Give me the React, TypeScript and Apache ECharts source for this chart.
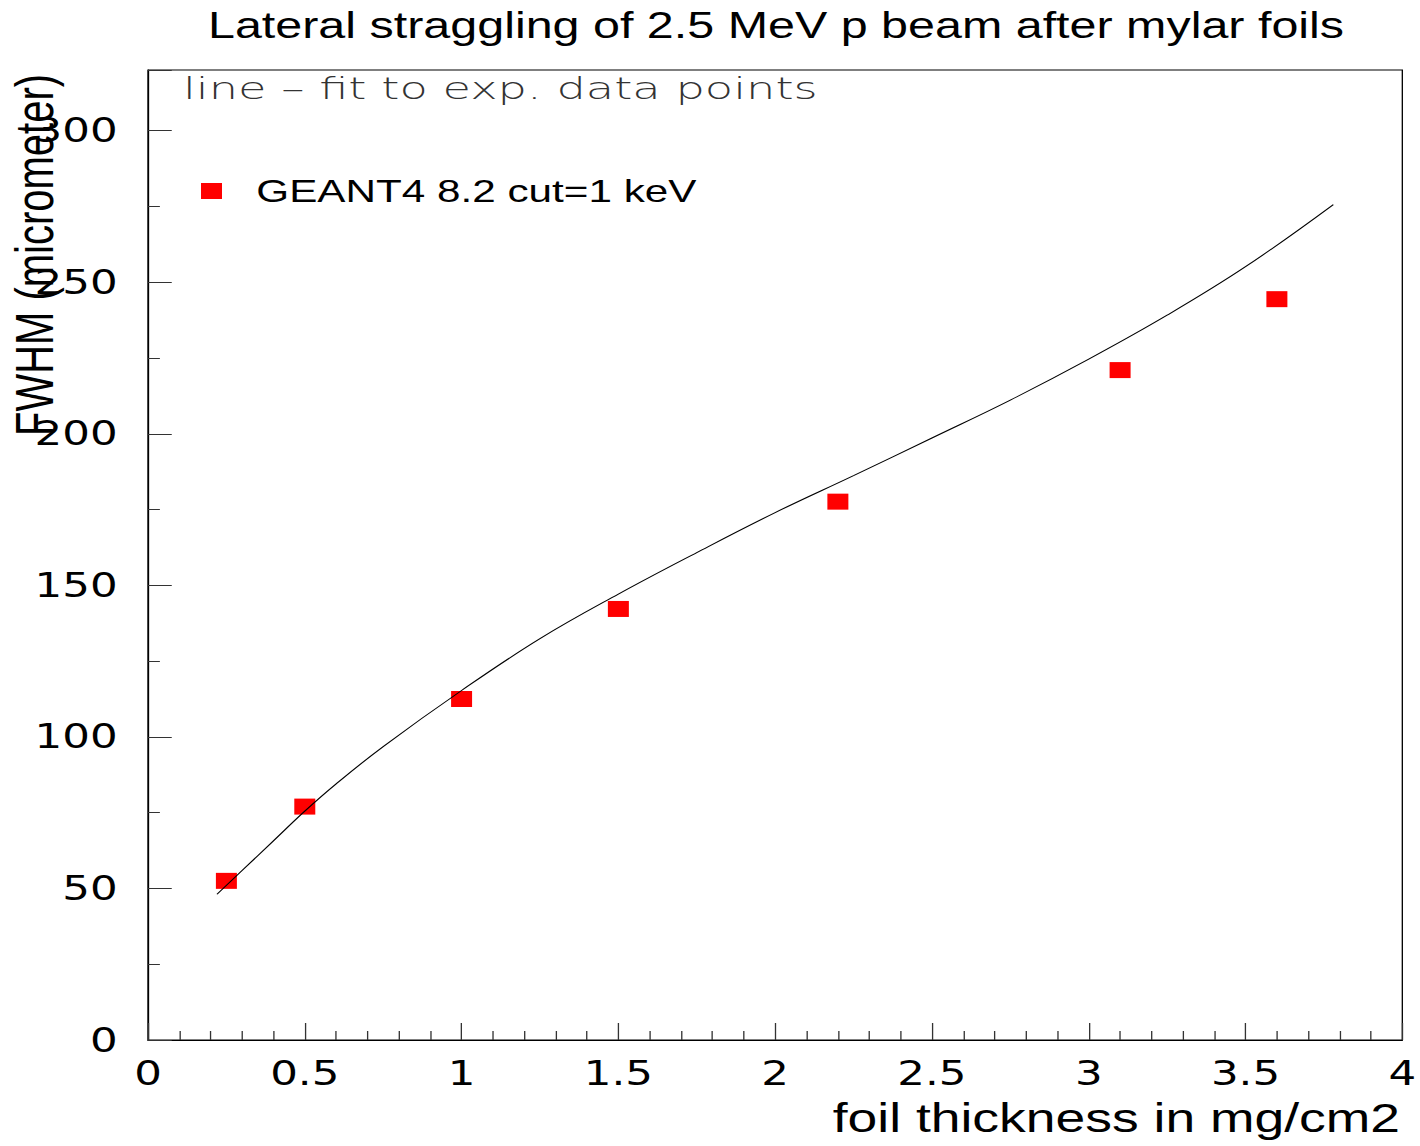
import React, { useEffect, useRef } from "react";
import * as echarts from "echarts";

// The figure is laid out in a narrower box and stretched horizontally,
// the way the original ROOT canvas was exported.
const STRETCH = 1.32;
const PAGE_W = 1420;
const PAGE_H = 1146;
const W = PAGE_W / STRETCH;

const TITLE = "Lateral straggling of 2.5 MeV p beam after mylar foils";
const NOTE = "line \u2013 fit to exp. data points";
const X_NAME = "foil thickness in mg/cm2";
const Y_NAME = "FWHM (micrometer)";
const SERIES_NAME = "GEANT4 8.2 cut=1 keV";

// Simulated points
const thickness = [0.25, 0.5, 1.0, 1.5, 2.2, 3.1, 3.6];
const fwhm = [52.5, 77, 112.5, 142.2, 177.6, 221, 244.4];

// Fit curve through the experimental data
const fitThickness = [0.22, 0.3, 0.4, 0.5, 0.6, 0.75, 1.0, 1.25, 1.5, 1.75, 2.0, 2.25, 2.5, 2.75, 3.0, 3.25, 3.5, 3.78];
const fitFwhm = [48.1, 55.9, 65.7, 75.5, 84.5, 96.8, 115.3, 132.4, 147.1, 160.8, 174.0, 186.2, 198.6, 211.1, 224.6, 239.1, 255.1, 275.6];

const X_MIN = 0;
const X_MAX = 4;
const X_STEP = 0.5;
const Y_MIN = 0;
const Y_MAX = 320;
const Y_STEP = 50;
const Y_MINOR_STEP = 25;
const Y_LAST_LABEL = 300;

const SANS = "Liberation Sans";

export default function App() {
  const ref = useRef<HTMLDivElement>(null);

  useEffect(() => {
    if (!ref.current) return;
    const chart = echarts.init(ref.current, null, { renderer: "svg" });

    const g4Data = thickness.map((x, i) => [x, fwhm[i]]);
    const fitData = fitThickness.map((x, i) => [x, fitFwhm[i]]);

    const axisColor = "#000";

    chart.setOption({
      animation: false,
      backgroundColor: "#fff",
      grid: {
        left: 148 / STRETCH,
        right: W - 1402 / STRETCH,
        top: 70,
        bottom: PAGE_H - 1040,
        show: true,
        borderColor: axisColor,
        borderWidth: 1,
        containLabel: false,
      },
      legend: {
        data: [SERIES_NAME],
        left: 201 / STRETCH - 5,
        top: 170,
        icon: "rect",
        itemWidth: 21 / STRETCH,
        itemHeight: 16,
        itemStyle: { opacity: 1 },
        textStyle: {
          fontFamily: SANS,
          fontSize: 32,
          color: "#000",
          padding: [0, 0, 0, 21],
        },
      },
      xAxis: {
        type: "value",
        min: X_MIN,
        max: X_MAX,
        interval: X_STEP,
        axisLine: { show: true, onZero: false, lineStyle: { color: axisColor, width: 1 } },
        axisTick: { show: true, inside: true, length: 17, lineStyle: { color: "#333" } },
        minorTick: { show: true, splitNumber: 5, length: 9, lineStyle: { color: "#333" } },
        splitLine: { show: false },
        axisLabel: {
          color: "#000",
          fontFamily: "DejaVu Sans",
          fontSize: 33,
          margin: 17,
        },
      },
      yAxis: [
        {
          type: "value",
          min: Y_MIN,
          max: Y_MAX,
          interval: Y_STEP,
          axisLine: { show: true, onZero: false, lineStyle: { color: axisColor, width: 1 } },
          axisTick: { show: true, inside: true, length: 18, lineStyle: { color: "#333" } },
          splitLine: { show: false },
          axisLabel: {
            color: "#000",
            fontFamily: "DejaVu Sans",
            fontSize: 33,
            margin: 23,
            formatter: (v: number) => (v > Y_LAST_LABEL ? "" : String(v)),
          },
        },
        {
          type: "value",
          position: "left",
          min: Y_MIN,
          max: Y_MAX,
          interval: Y_MINOR_STEP,
          axisLine: { show: false },
          axisTick: { show: true, inside: true, length: 9, lineStyle: { color: "#333" } },
          splitLine: { show: false },
          axisLabel: { show: false },
        },
      ],
      series: [
        {
          name: "fit",
          type: "line",
          data: fitData,
          showSymbol: false,
          smooth: 0.4,
          lineStyle: { color: "#000", width: 1 },
          z: 3,
        },
        {
          name: SERIES_NAME,
          type: "scatter",
          data: g4Data,
          symbol: "rect",
          symbolSize: [21 / STRETCH, 16],
          itemStyle: { color: "#ff0000", opacity: 1 },
          z: 2,
        },
      ],
      graphic: [
        {
          type: "text",
          x: 776 / STRETCH,
          y: 25,
          style: {
            text: TITLE,
            fontFamily: SANS,
            fontSize: 36.7,
            fill: "#000",
            textAlign: "center",
            textVerticalAlign: "middle",
          },
        },
        {
          type: "text",
          x: 183 / STRETCH,
          y: 89,
          scaleX: 1.17,
          style: {
            text: NOTE,
            fontFamily: "DejaVu Sans",
            fontWeight: 200,
            fontSize: 30,
            fill: "#333",
            textAlign: "left",
            textVerticalAlign: "middle",
          },
        },
        {
          type: "text",
          x: 35 / STRETCH,
          y: 255,
          rotation: Math.PI / 2,
          style: {
            text: Y_NAME,
            fontFamily: SANS,
            fontSize: 40,
            fill: "#000",
            textAlign: "center",
            textVerticalAlign: "middle",
          },
        },
        {
          type: "text",
          x: 1400 / STRETCH,
          y: 1118,
          style: {
            text: X_NAME,
            fontFamily: SANS,
            fontSize: 40.5,
            fill: "#000",
            textAlign: "right",
            textVerticalAlign: "middle",
          },
        },
      ],
    });

    return () => chart.dispose();
  }, []);

  return (
    <div
      style={{
        position: "absolute",
        left: 0,
        top: 0,
        width: PAGE_W,
        height: PAGE_H,
        overflow: "hidden",
        background: "#fff",
      }}
    >
      <div
        ref={ref}
        style={{
          width: W,
          height: PAGE_H,
          transform: `scaleX(${STRETCH})`,
          transformOrigin: "0 0",
        }}
      />
    </div>
  );
}
